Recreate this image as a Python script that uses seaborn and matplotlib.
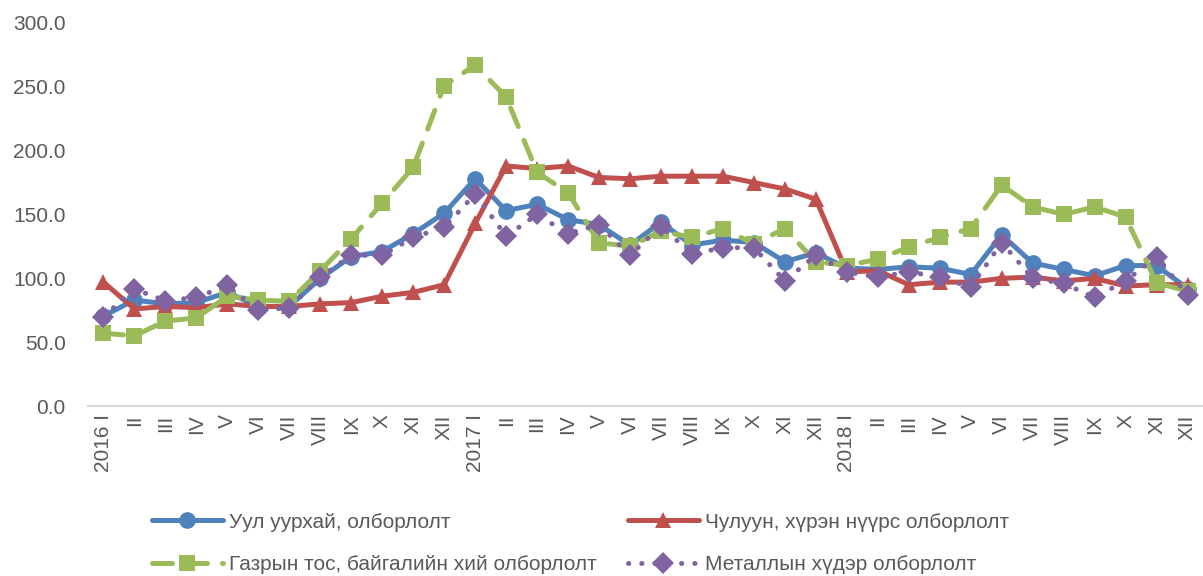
import numpy as np
import pandas as pd
import matplotlib
matplotlib.use("Agg")
import matplotlib.pyplot as plt
import seaborn as sns
from matplotlib.lines import Line2D

sns.set_theme(style="white")
plt.rcParams['font.family'] = ['Liberation Sans', 'DejaVu Sans']

months = ["I", "II", "III", "IV", "V", "VI", "VII", "VIII", "IX", "X", "XI", "XII"]
years = ["2016", "2017", "2018"]
tick_labels = [(f"{y} {m}" if m == "I" else m) for y in years for m in months]

mining = [70.5, 83, 80, 81, 89, 78, 78, 100, 117, 121, 135, 151,
          178, 153, 158, 146, 142, 126, 144, 126, 130, 128, 113, 120,
          108, 107, 109, 108, 103, 134, 112, 107, 102, 110, 110, 92]
coal = [97, 76, 78, 77, 80, 78, 78, 80, 81, 86, 89, 95,
        143, 188, 186, 188, 179, 178, 180, 180, 180, 175, 170, 162,
        105, 106, 95, 97, 97, 100, 101, 98, 100, 94, 95, 95]
oil_gas = [57, 55, 66.5, 69, 86, 83, 82, 106, 131, 159, 187, 251,
           267, 242, 183, 167, 128, 125, 137, 132, 139, 127, 139, 113,
           110, 115, 124.5, 132, 139, 173, 156, 150, 156, 148, 96.5, 90]
metal = [70, 91.5, 82.5, 85, 94.5, 75, 77, 101, 118, 118, 132, 140,
         166, 133, 150, 135, 142, 118, 141, 119, 124, 124, 98, 118,
         105, 101, 105, 101, 93, 128, 100, 96, 85, 98, 117, 87]

names = ["Уул уурхай, олборлолт",
         "Чулуун, хүрэн нүүрс олборлолт",
         "Газрын тос, байгалийн хий олборлолт",
         "Металлын хүдэр олборлолт"]
colors = ["#4F81BD", "#C0504D", "#9BBB59", "#8064A2"]
markers = ["o", "^", "s", "D"]
styles = ["-", "-", (0, (4, 3)), (0, (0.05, 2.6))]
msizes = [12, 12, 11, 11]
series = [mining, coal, oil_gas, metal]

x = np.arange(len(tick_labels))

fig = plt.figure(figsize=(12.03, 5.76), dpi=100)
ax = fig.add_axes([88/1203, 1-406/576, 1-88/1203, (406-23)/576])

for name, vals, c, m, ls, ms in zip(names, series, colors, markers, styles, msizes):
    df = pd.DataFrame({"x": x, "y": vals})
    sns.lineplot(data=df, x="x", y="y", ax=ax, color=c, marker=m, markersize=ms,
                 linestyle=ls, linewidth=3.6, markeredgewidth=0,
                 dash_capstyle="round", solid_capstyle="round", label=None,
                 legend=False)

ax.set_xlim(-0.5, 35.5)
ax.set_ylim(0, 300)
ax.set_yticks(np.arange(0, 301, 50))
ax.set_yticklabels([f"{v:.1f}" for v in np.arange(0, 301, 50)], fontsize=15, color="#595959")
ax.set_xticks(x)
ax.set_xticklabels(tick_labels, rotation=90, fontsize=15, color="#595959")
ax.tick_params(axis="both", length=0, pad=6)
ax.tick_params(axis="y", pad=16)
ax.set_xlabel("")
ax.set_ylabel("")
for s in ["top", "right", "left"]:
    ax.spines[s].set_visible(False)
ax.spines["bottom"].set_color("#D9D9D9")
ax.spines["bottom"].set_linewidth(1.5)
ax.grid(False)

handles = [Line2D([], [], color=c, marker=m, markersize=ms, linestyle=ls, linewidth=3.6,
                  markeredgewidth=0, dash_capstyle="round", solid_capstyle="round")
           for c, m, ls, ms in zip(colors, markers, styles, msizes)]
order = [0, 2, 1, 3]
fig.legend([handles[i] for i in order], [names[i] for i in order], ncol=2,
           loc="center left", bbox_to_anchor=(152/1203, 1-543.5/576),
           frameon=False, fontsize=15, handlelength=3.4, handletextpad=0.3,
           columnspacing=1.5, labelspacing=1.15, borderpad=0, borderaxespad=0,
           labelcolor="#595959")

fig.savefig("out.png", dpi=100)
